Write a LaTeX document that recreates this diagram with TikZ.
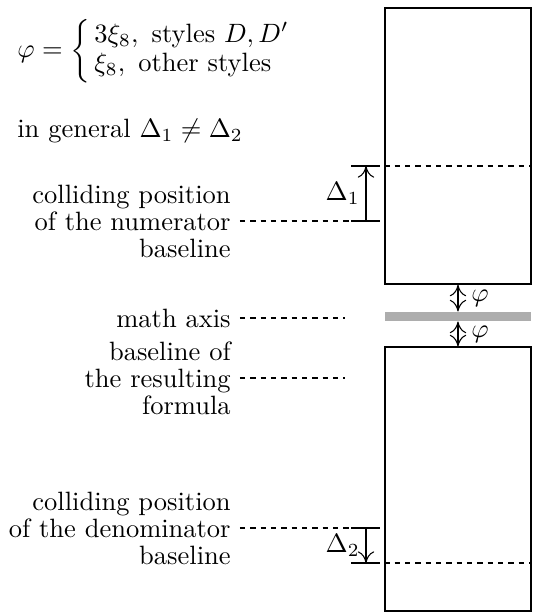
\documentclass[tikz,border=0pt]{standalone}
\usepackage{amsmath}
\usepackage{tikz}
\usetikzlibrary{arrows.meta, positioning}
\tikzstyle{frac} = [rectangle, draw=black, line width=0.45pt, minimum width=55.1pt, inner sep=0pt]
\tikzstyle{axisbar} = [rectangle, fill=black!32, minimum width=55.1pt, minimum height=3.4pt, inner sep=0pt]
\tikzstyle{guide} = [line width=0.4pt, dash pattern=on 2pt off 1.9pt]
\tikzstyle{tick} = [line width=0.45pt]
\tikzstyle{dim} = [line width=0.4pt,->,>={Computer Modern Rightarrow[width=6.2pt,length=4.4pt]}]
\tikzstyle{dimboth} = [line width=0.4pt,<->,>={Computer Modern Rightarrow[width=6.2pt,length=4.4pt]}]
\tikzstyle{lbl} = [align=right, anchor=east, font=\fontsize{10}{10.2}\selectfont]

\begin{document}
\begin{tikzpicture}[x=0.3774pt, y=-0.3774pt, every node/.style={font=\fontsize{10}{10.2}\selectfont}]
  \useasboundingbox (0,0) rectangle (552,614);

  % Notes
  \node[anchor=west] (phidef) at (8,51) {$\varphi=\biggl\{\,\begin{array}{@{}l@{}}3\xi_8,\ \text{styles } D,D'\\[0.6pt] \xi_8,\ \text{other styles}\end{array}$};
  \node[anchor=west] (general) at (8,131) {in general $\Delta_1\neq\Delta_2$};

  % Fraction parts
  \node[frac, minimum height=104.2pt] (num) at (458,146) {};
  \node[axisbar] (axis) at (458,316.5) {};
  \node[frac, minimum height=99.6pt] (den) at (458,479) {};

  % Dimension points
  \coordinate (numtop) at (366,166);
  \coordinate (numbase) at (366,221);
  \coordinate (dentop) at (366,528);
  \coordinate (denbase) at (366,563);

  % Labels
  \node[lbl] (numlbl) at (240,221) {colliding position\\of the numerator\\baseline};
  \node[lbl] (axislbl) at (240,318) {math axis};
  \node[lbl] (baselbl) at (240,378) {baseline of\\the resulting\\formula};
  \node[lbl] (denlbl) at (240,528) {colliding position\\of the denominator\\baseline};

  % Guides
  \draw[guide] (numlbl.east) -- ([xshift=-5.6pt]numbase);
  \draw[guide] (axislbl.east) -- (345,318);
  \draw[guide] (baselbl.east) -- (345,378);
  \draw[guide] (denlbl.east) -- ([xshift=-5.6pt]dentop);
  \draw[guide] (num.west |- numtop) -- (num.east |- numtop);
  \draw[guide] (den.west |- denbase) -- (den.east |- denbase);

  % Ticks
  \draw[tick] ([xshift=-5.6pt]numtop) -- ([xshift=5.3pt]numtop);
  \draw[tick] ([xshift=-5.6pt]numbase) -- ([xshift=5.3pt]numbase);
  \draw[tick] ([xshift=-5.6pt]dentop) -- ([xshift=5.3pt]dentop);
  \draw[tick] ([xshift=-5.6pt]denbase) -- ([xshift=5.3pt]denbase);

  % Dimensions
  \draw[dim] (numbase) -- node[left, inner sep=2.2pt]{$\Delta_1$} (numtop);
  \draw[dim] (dentop) -- node[left, inner sep=2.2pt]{$\Delta_2$} (denbase);
  \draw[dimboth] (num.south) -- node[right, xshift=1.5pt]{$\varphi$} (axis.north);
  \draw[dimboth] (axis.south) -- node[right, xshift=1.5pt]{$\varphi$} (den.north);
\end{tikzpicture}
\end{document}
